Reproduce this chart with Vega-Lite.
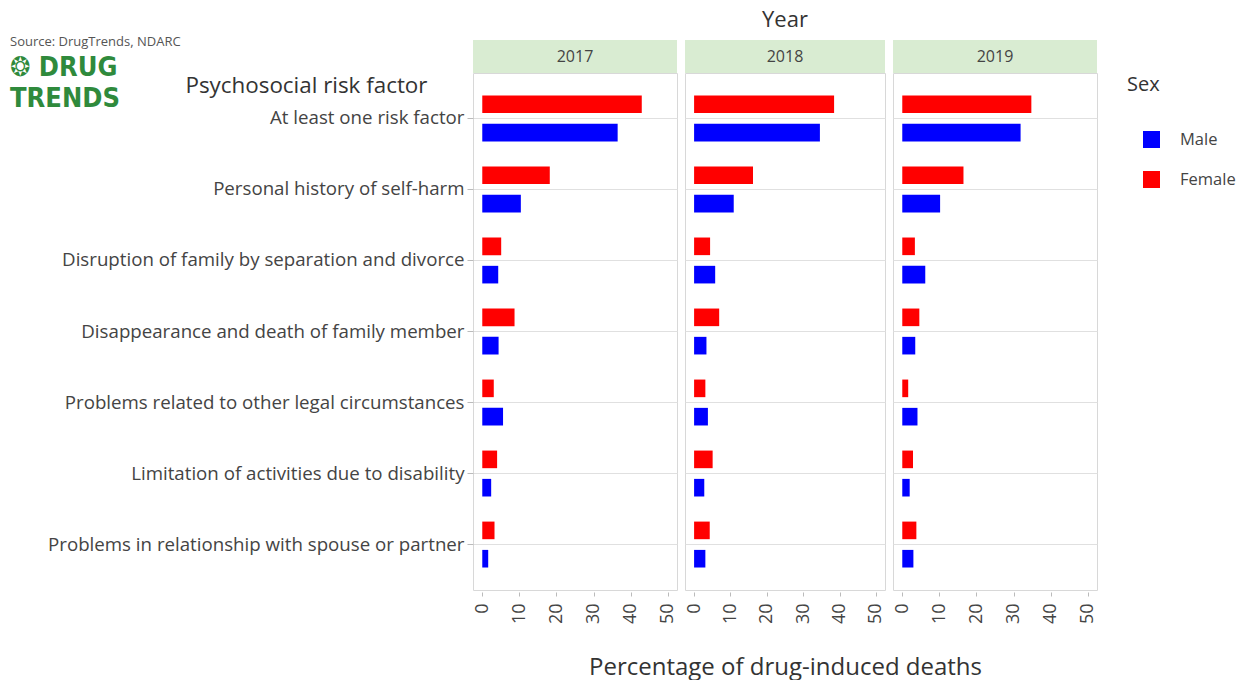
{
  "$schema": "https://vega.github.io/schema/vega-lite/v6.json",
  "background": "white",
  "padding": {"left": 10, "top": 9, "right": 5, "bottom": 5},
  "datasets": {
    "years": [{"Year": 2017}, {"Year": 2018}, {"Year": 2019}],
    "d": [
      {"Year": 2017, "Factor": "At least one risk factor", "Sex": "Female", "Pct": 43.0},
      {"Year": 2017, "Factor": "At least one risk factor", "Sex": "Male", "Pct": 36.5},
      {"Year": 2017, "Factor": "Personal history of self-harm", "Sex": "Female", "Pct": 18.2},
      {"Year": 2017, "Factor": "Personal history of self-harm", "Sex": "Male", "Pct": 10.4},
      {"Year": 2017, "Factor": "Disruption of family by separation and divorce", "Sex": "Female", "Pct": 5.1},
      {"Year": 2017, "Factor": "Disruption of family by separation and divorce", "Sex": "Male", "Pct": 4.3},
      {"Year": 2017, "Factor": "Disappearance and death of family member", "Sex": "Female", "Pct": 8.7},
      {"Year": 2017, "Factor": "Disappearance and death of family member", "Sex": "Male", "Pct": 4.4},
      {"Year": 2017, "Factor": "Problems related to other legal circumstances", "Sex": "Female", "Pct": 3.1},
      {"Year": 2017, "Factor": "Problems related to other legal circumstances", "Sex": "Male", "Pct": 5.6},
      {"Year": 2017, "Factor": "Limitation of activities due to disability", "Sex": "Female", "Pct": 4.0},
      {"Year": 2017, "Factor": "Limitation of activities due to disability", "Sex": "Male", "Pct": 2.4},
      {"Year": 2017, "Factor": "Problems in relationship with spouse or partner", "Sex": "Female", "Pct": 3.3},
      {"Year": 2017, "Factor": "Problems in relationship with spouse or partner", "Sex": "Male", "Pct": 1.6},
      {"Year": 2018, "Factor": "At least one risk factor", "Sex": "Female", "Pct": 38.5},
      {"Year": 2018, "Factor": "At least one risk factor", "Sex": "Male", "Pct": 34.6},
      {"Year": 2018, "Factor": "Personal history of self-harm", "Sex": "Female", "Pct": 16.2},
      {"Year": 2018, "Factor": "Personal history of self-harm", "Sex": "Male", "Pct": 10.9},
      {"Year": 2018, "Factor": "Disruption of family by separation and divorce", "Sex": "Female", "Pct": 4.4},
      {"Year": 2018, "Factor": "Disruption of family by separation and divorce", "Sex": "Male", "Pct": 5.8},
      {"Year": 2018, "Factor": "Disappearance and death of family member", "Sex": "Female", "Pct": 6.9},
      {"Year": 2018, "Factor": "Disappearance and death of family member", "Sex": "Male", "Pct": 3.4},
      {"Year": 2018, "Factor": "Problems related to other legal circumstances", "Sex": "Female", "Pct": 3.1},
      {"Year": 2018, "Factor": "Problems related to other legal circumstances", "Sex": "Male", "Pct": 3.8},
      {"Year": 2018, "Factor": "Limitation of activities due to disability", "Sex": "Female", "Pct": 5.1},
      {"Year": 2018, "Factor": "Limitation of activities due to disability", "Sex": "Male", "Pct": 2.8},
      {"Year": 2018, "Factor": "Problems in relationship with spouse or partner", "Sex": "Female", "Pct": 4.3},
      {"Year": 2018, "Factor": "Problems in relationship with spouse or partner", "Sex": "Male", "Pct": 3.1},
      {"Year": 2019, "Factor": "At least one risk factor", "Sex": "Female", "Pct": 34.8},
      {"Year": 2019, "Factor": "At least one risk factor", "Sex": "Male", "Pct": 31.9},
      {"Year": 2019, "Factor": "Personal history of self-harm", "Sex": "Female", "Pct": 16.5},
      {"Year": 2019, "Factor": "Personal history of self-harm", "Sex": "Male", "Pct": 10.2},
      {"Year": 2019, "Factor": "Disruption of family by separation and divorce", "Sex": "Female", "Pct": 3.4},
      {"Year": 2019, "Factor": "Disruption of family by separation and divorce", "Sex": "Male", "Pct": 6.2},
      {"Year": 2019, "Factor": "Disappearance and death of family member", "Sex": "Female", "Pct": 4.6},
      {"Year": 2019, "Factor": "Disappearance and death of family member", "Sex": "Male", "Pct": 3.5},
      {"Year": 2019, "Factor": "Problems related to other legal circumstances", "Sex": "Female", "Pct": 1.6},
      {"Year": 2019, "Factor": "Problems related to other legal circumstances", "Sex": "Male", "Pct": 4.1},
      {"Year": 2019, "Factor": "Limitation of activities due to disability", "Sex": "Female", "Pct": 2.9},
      {"Year": 2019, "Factor": "Limitation of activities due to disability", "Sex": "Male", "Pct": 2.0},
      {"Year": 2019, "Factor": "Problems in relationship with spouse or partner", "Sex": "Female", "Pct": 3.8},
      {"Year": 2019, "Factor": "Problems in relationship with spouse or partner", "Sex": "Male", "Pct": 3.0}
    ]
  },
  "bounds": "flush",
  "spacing": 33,
  "vconcat": [
    {
      "bounds": "flush",
      "spacing": 8,
      "hconcat": [
        {
          "width": 204, "height": 33,
          "data": {"name": "years"},
          "transform": [{"filter": "datum.Year == 2017"}],
          "title": {
            "text": "Source: DrugTrends, NDARC",
            "subtitle": ["❂ DRUG", "TRENDS"],
            "anchor": "start", "frame": "group", "orient": "top",
            "offset": -72, "dx": -463,
            "fontSize": 13, "fontWeight": "normal", "color": "#555",
            "subtitleFont": "DejaVu Sans Condensed, Liberation Sans Narrow, DejaVu Sans",
            "subtitleFontSize": 27, "subtitleFontWeight": "bold",
            "subtitleColor": "#2f8a3c", "subtitleLineHeight": 31, "subtitlePadding": 6
          },
          "mark": {"type": "text", "fontSize": 16, "color": "#444"},
          "encoding": {"text": {"field": "Year", "type": "nominal"}},
          "view": {"fill": "#d9ecd2", "stroke": null}
        },
        {
          "width": 200, "height": 33,
          "data": {"name": "years"},
          "transform": [{"filter": "datum.Year == 2018"}],
          "title": {"text": "Year", "fontSize": 22, "fontWeight": "normal", "color": "#333", "anchor": "middle", "frame": "group", "offset": 8},
          "mark": {"type": "text", "fontSize": 16, "color": "#444"},
          "encoding": {"text": {"field": "Year", "type": "nominal"}},
          "view": {"fill": "#d9ecd2", "stroke": null}
        },
        {
          "width": 204, "height": 33,
          "data": {"name": "years"},
          "transform": [{"filter": "datum.Year == 2019"}],
          "mark": {"type": "text", "fontSize": 16, "color": "#444"},
          "encoding": {"text": {"field": "Year", "type": "nominal"}},
          "view": {"fill": "#d9ecd2", "stroke": null}
        }
      ]
    },
    {
      "bounds": "flush",
      "spacing": 8,
      "hconcat": [
        {
          "width": 204, "height": 517,
          "data": {"name": "d"},
          "transform": [{"filter": "datum.Year == 2017"}],
          "mark": {"type": "bar"},
          "encoding": {
            "y": {
              "field": "Factor", "type": "nominal",
              "sort": ["At least one risk factor", "Personal history of self-harm", "Disruption of family by separation and divorce", "Disappearance and death of family member", "Problems related to other legal circumstances", "Limitation of activities due to disability", "Problems in relationship with spouse or partner"],
              "scale": {"paddingInner": 0, "paddingOuter": 0.14},
              "axis": {
                "title": "Psychosocial risk factor", "titleAngle": 0, "titleAlign": "right", "titleBaseline": "alphabetic",
                "titleX": -46, "titleY": 19, "titleFontSize": 22.4, "titleFontWeight": "normal",
                "labelFontSize": 18.7, "labelPadding": 3, "labelLimit": 600, "tickSize": 6,
                "domain": false, "grid": true, "bandPosition": 0.5
              }
            },
            "yOffset": {"field": "Sex", "sort": ["Female", "Male"], "scale": {"paddingInner": 0.378, "paddingOuter": 0.443}},
            "x": {
              "field": "Pct", "type": "quantitative",
              "scale": {"domain": [-2.5, 52.5], "nice": false},
              "axis": {"title": null, "values": [0, 10, 20, 30, 40, 50]}
            },
            "color": {"field": "Sex", "type": "nominal", "title": "Sex", "scale": {"domain": ["Male", "Female"], "range": ["#0000ff", "#ff0000"]}}
          }
        },
        {
          "width": 200, "height": 517,
          "data": {"name": "d"},
          "transform": [{"filter": "datum.Year == 2018"}],
          "mark": {"type": "bar"},
          "encoding": {
            "y": {
              "field": "Factor", "type": "nominal",
              "sort": ["At least one risk factor", "Personal history of self-harm", "Disruption of family by separation and divorce", "Disappearance and death of family member", "Problems related to other legal circumstances", "Limitation of activities due to disability", "Problems in relationship with spouse or partner"],
              "scale": {"paddingInner": 0, "paddingOuter": 0.14},
              "axis": {"title": null, "labels": false, "ticks": false, "domain": false, "grid": true, "bandPosition": 0.5}
            },
            "yOffset": {"field": "Sex", "sort": ["Female", "Male"], "scale": {"paddingInner": 0.378, "paddingOuter": 0.443}},
            "x": {
              "field": "Pct", "type": "quantitative",
              "scale": {"domain": [-2.5, 52.5], "nice": false},
              "axis": {"title": "Percentage of drug-induced deaths", "titleFontSize": 24, "titleFontWeight": "normal", "titlePadding": 32, "values": [0, 10, 20, 30, 40, 50]}
            },
            "color": {"field": "Sex", "type": "nominal", "title": "Sex", "scale": {"domain": ["Male", "Female"], "range": ["#0000ff", "#ff0000"]}}
          }
        },
        {
          "width": 204, "height": 517,
          "data": {"name": "d"},
          "transform": [{"filter": "datum.Year == 2019"}],
          "mark": {"type": "bar"},
          "encoding": {
            "y": {
              "field": "Factor", "type": "nominal",
              "sort": ["At least one risk factor", "Personal history of self-harm", "Disruption of family by separation and divorce", "Disappearance and death of family member", "Problems related to other legal circumstances", "Limitation of activities due to disability", "Problems in relationship with spouse or partner"],
              "scale": {"paddingInner": 0, "paddingOuter": 0.14},
              "axis": {"title": null, "labels": false, "ticks": false, "domain": false, "grid": true, "bandPosition": 0.5}
            },
            "yOffset": {"field": "Sex", "sort": ["Female", "Male"], "scale": {"paddingInner": 0.378, "paddingOuter": 0.443}},
            "x": {
              "field": "Pct", "type": "quantitative",
              "scale": {"domain": [-2.5, 52.5], "nice": false},
              "axis": {"title": null, "values": [0, 10, 20, 30, 40, 50]}
            },
            "color": {"field": "Sex", "type": "nominal", "title": "Sex", "scale": {"domain": ["Male", "Female"], "range": ["#0000ff", "#ff0000"]}}
          }
        }
      ]
    }
  ],
  "config": {
    "font": "Open Sans",
    "view": {"stroke": "#d8d8d8", "strokeWidth": 1},
    "axis": {
      "labelColor": "#444", "titleColor": "#333", "gridColor": "#e0e0e0", "tickColor": "#bbb"
    },
    "axisX": {
      "grid": false, "domain": false, "tickSize": 4, "offset": 2,
      "labelAngle": 270, "labelFontSize": 18, "labelPadding": 7
    },
    "legend": {
      "orient": "none", "legendX": 654, "legendY": 35,
      "titleFontSize": 20, "titleFontWeight": "normal", "titleColor": "#333",
      "labelFontSize": 16.5, "labelColor": "#444",
      "symbolType": "square", "symbolSize": 289, "symbolStrokeWidth": 0, "symbolOffset": 16,
      "labelOffset": 20, "rowPadding": 23, "titlePadding": 36
    }
  }
}
